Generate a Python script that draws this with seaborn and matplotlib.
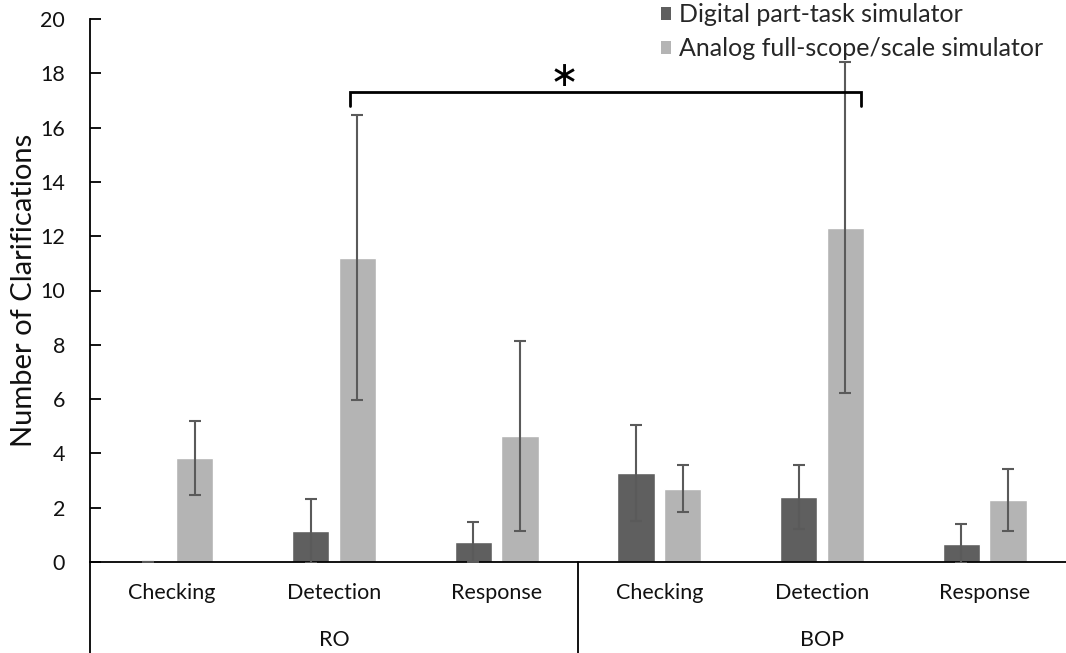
import numpy as np
import pandas as pd
import matplotlib
matplotlib.use("Agg")
import matplotlib.pyplot as plt
import seaborn as sns
from matplotlib.patches import Patch

# ---- data ----
roles = ["RO", "RO", "RO", "BOP", "BOP", "BOP"]
tasks = ["Checking", "Detection", "Response", "Checking", "Detection", "Response"]
series = ["Digital part-task simulator", "Analog full-scope/scale simulator"]
digital_mean = [0.0, 1.15, 0.75, 3.29, 2.40, 0.67]
digital_err = [0.0, 1.18, 0.74, 1.77, 1.19, 0.72]
analog_mean = [3.83, 11.20, 4.65, 2.70, 12.31, 2.29]
analog_err = [1.38, 5.25, 3.50, 0.86, 6.09, 1.15]
y_ticks = list(range(0, 21, 2))
colors = ["#5f5f5f", "#b4b4b4"]

slots = [f"{r}|{t}" for r, t in zip(roles, tasks)]
df = pd.DataFrame({
    "slot": slots * 2,
    "series": [series[0]] * 6 + [series[1]] * 6,
    "value": digital_mean + analog_mean,
    "err": digital_err + analog_err,
})

sns.set_theme(style="white")
plt.rcParams["font.family"] = ["Lato", "DejaVu Sans"]

W, H = 1066, 653
fig = plt.figure(figsize=(W / 100, H / 100), dpi=100)
left, right, top, bottom = 90, 1066, 19, 562
ax = fig.add_axes([left / W, 1 - bottom / H, (right - left) / W, (bottom - top) / H])

sns.barplot(data=df, x="slot", y="value", hue="series", order=slots,
            hue_order=series, palette=colors, saturation=1, width=0.576,
            gap=0.2, errorbar=None, legend=False, ax=ax)

# error bars at the bar centres
for cont, s in zip(ax.containers, series):
    sub = df[df["series"] == s].set_index("slot").loc[slots]
    xs = [p.get_x() + p.get_width() / 2 for p in cont.patches]
    ax.errorbar(xs, sub["value"].values, yerr=sub["err"].values, fmt="none",
                ecolor="#5a5a5a", elinewidth=1.5, capsize=4.3, capthick=1.5,
                zorder=3)

ax.set_ylim(0, 20)
ax.set_xlim(-0.5, 5.5)
ax.set_yticks(y_ticks)
ax.tick_params(axis="y", direction="in", length=8, width=1.3, color="black",
               pad=18, labelsize=15.5, labelcolor="#111111", left=True)
ax.set_xticks(range(6), labels=tasks)
ax.tick_params(axis="x", length=0, pad=15, labelsize=15.5, labelcolor="#111111")
ax.set_xlabel("")
ax.set_ylabel("Number of Clarifications", fontsize=21, color="#111111")
ax.yaxis.set_label_coords(-0.054, 0.5)

for s in ["top", "right"]:
    ax.spines[s].set_visible(False)
for s in ["left", "bottom"]:
    ax.spines[s].set_color("black")
    ax.spines[s].set_linewidth(1.3)

ext = (H - bottom) / (bottom - top)
ax.plot([0, 0], [0, -ext], transform=ax.transAxes, color="black", lw=1.3,
        clip_on=False)
ax.plot([0.5, 0.5], [0, -ext], transform=ax.transAxes, color="black", lw=1.3,
        clip_on=False)

trans = matplotlib.transforms.blended_transform_factory(ax.transData, ax.transAxes)
for gx, g in [(1, "RO"), (4, "BOP")]:
    ax.text(gx, -(640 - bottom) / (bottom - top), g, transform=trans,
            ha="center", va="center", fontsize=15.5, color="#111111")

# significance bracket
ax.plot([1.10, 1.10, 4.24, 4.24], [16.8, 17.31, 17.31, 16.8], color="black",
        lw=2, solid_joinstyle="miter", zorder=4)
ax.text(2.417, 17.89, "\u2217", ha="center", va="center", fontsize=25,
        family=["DejaVu Sans"], color="black")

handles = [Patch(facecolor=c, edgecolor="none") for c in colors]
fig.legend(handles, series, loc="upper left",
           bbox_to_anchor=(660 / W, 1 - 2 / H), frameon=False,
           handlelength=0.4, handleheight=0.4, handletextpad=0.3,
           labelspacing=0.45, fontsize=18, borderaxespad=0, borderpad=0.05)

fig.savefig("out.png", dpi=100)
